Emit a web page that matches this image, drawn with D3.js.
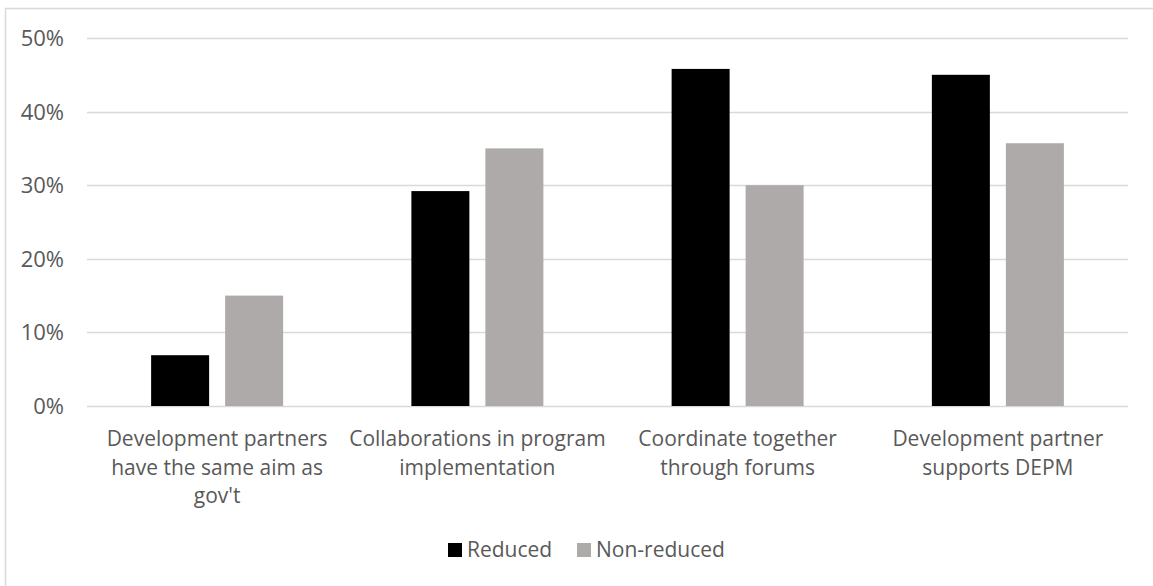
<!DOCTYPE html>
<html>
<head>
<meta charset="utf-8">
<script src="https://cdn.jsdelivr.net/npm/d3@7"></script>
<style>
  html, body { margin: 0; padding: 0; background: #ffffff; }
  svg { display: block; font-family: "Open Sans", sans-serif; }
</style>
</head>
<body>
<svg id="chart" width="1153" height="586"></svg>
<script>
const categories = [
  ["Development partners", "have the same aim as", "gov't"],
  ["Collaborations in program", "implementation"],
  ["Coordinate together", "through forums"],
  ["Development partner", "supports DEPM"]
];
const seriesNames = ["Reduced", "Non-reduced"];
const reduced = [0.069, 0.292, 0.458, 0.450];
const nonReduced = [0.150, 0.350, 0.300, 0.357];
const yTicks = [0, 0.1, 0.2, 0.3, 0.4, 0.5];
const colors = ["#000000", "#AEAAAA"];

const svg = d3.select("#chart");
const W = 1153, H = 586;
const plotL = 87, plotR = 1128, plotT = 38, plotB = 406;
const fontSize = 21;
const tickFontSize = 22;
const textColor = "#595959";

// outer border
svg.append("rect")
  .attr("x", 5.5).attr("y", 8.5)
  .attr("width", W + 10).attr("height", H + 10)
  .attr("fill", "#ffffff").attr("stroke", "#D9D9D9").attr("stroke-width", 1.5);

const x0 = d3.scaleBand().domain(d3.range(categories.length)).range([plotL, plotR]).paddingInner(0).paddingOuter(0);
const y = d3.scaleLinear().domain([0, 0.5]).range([plotB, plotT]);

// gridlines
svg.append("g").selectAll("line").data(yTicks).join("line")
  .attr("x1", plotL).attr("x2", plotR)
  .attr("y1", d => Math.round(y(d)) + 0.5).attr("y2", d => Math.round(y(d)) + 0.5)
  .attr("stroke", "#D9D9D9").attr("stroke-width", 1.5);

// y tick labels
const yAxis = d3.axisLeft(y).tickValues(yTicks).tickFormat(d3.format(".0%")).tickSize(0).tickPadding(0);
const yg = svg.append("g").attr("transform", `translate(${plotL - 23},0)`).call(yAxis);
yg.select(".domain").remove();
yg.selectAll("text").attr("fill", textColor).style("font-size", tickFontSize + "px")
  .style("font-family", "'Open Sans', sans-serif").attr("dy", "0.34em");

// bars
const barW = 58, gap = 16;
const series = [reduced, nonReduced];
series.forEach((vals, si) => {
  svg.append("g").selectAll("rect").data(vals).join("rect")
    .attr("x", (d, i) => x0(i) + x0.bandwidth() / 2 - (barW * 2 + gap) / 2 + si * (barW + gap))
    .attr("y", d => y(d))
    .attr("width", barW)
    .attr("height", d => y(0) - y(d))
    .attr("fill", colors[si]);
});

// category labels
const lab = svg.append("g");
categories.forEach((lines, i) => {
  const t = lab.append("text")
    .attr("text-anchor", "middle")
    .attr("fill", textColor)
    .style("font-size", fontSize + "px");
  lines.forEach((ln, j) => {
    t.append("tspan").attr("x", x0(i) + x0.bandwidth() / 2).attr("y", plotB + 40 + j * 28.5).text(ln);
  });
});

// legend
const leg = svg.append("g");
const legItems = [{ x: 448, name: seriesNames[0], c: colors[0] }, { x: 577, name: seriesNames[1], c: colors[1] }];
legItems.forEach(it => {
  leg.append("rect").attr("x", it.x).attr("y", 543).attr("width", 14).attr("height", 14).attr("fill", it.c);
  leg.append("text").attr("x", it.x + 19).attr("y", 557).attr("fill", textColor)
    .style("font-size", fontSize + "px").text(it.name);
});
</script>
</body>
</html>
